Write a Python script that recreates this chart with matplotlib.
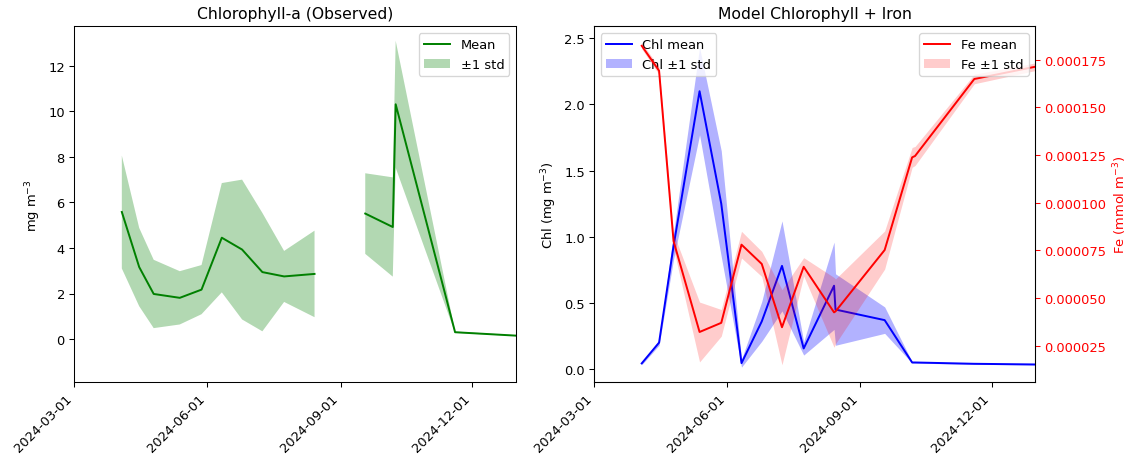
import numpy as np
import pandas as pd
import matplotlib
matplotlib.use("Agg")
import matplotlib.pyplot as plt
import matplotlib.dates as mdates

# ---- data ----
dates = pd.to_datetime([
    "2024-04-03", "2024-04-15", "2024-04-25", "2024-05-13", "2024-05-28",
    "2024-06-11", "2024-06-25", "2024-07-09", "2024-07-24", "2024-08-14",
    "2024-08-15", "2024-09-18", "2024-10-07", "2024-10-09", "2024-11-19",
    "2024-12-31",
])

obs_mean = [5.58, 3.16, 1.98, 1.81, 2.17, 4.45, 3.93, 2.94, 2.75, 2.86,
            np.nan, 5.51, 4.92, 10.31, 0.30, 0.15]
obs_std = [2.48, 1.72, 1.50, 1.17, 1.08, 2.40, 3.07, 2.60, 1.12, 1.90,
           np.nan, 1.77, 2.18, 2.79, 0.03, 0.02]

chl_mean = [0.043, 0.20, 0.93, 2.10, 1.25, 0.045, 0.36, 0.78, 0.156, 0.63,
            0.45, 0.37, 0.05, 0.05, 0.04, 0.035]
chl_std = [0.01, 0.02, 0.10, 0.33, 0.40, 0.03, 0.15, 0.34, 0.05, 0.33,
           0.27, 0.10, 0.005, 0.005, 0.004, 0.004]

fe_mean = [0.0001823, 0.0001692, 0.0000799, 0.0000322, 0.0000370, 0.0000780,
           0.0000679, 0.0000347, 0.0000664, 0.0000425, 0.0000430, 0.0000752,
           0.0001238, 0.0001245, 0.0001649, 0.0001713]
fe_std = [0.0000016, 0.0000020, 0.0000040, 0.0000157, 0.0000070, 0.0000070,
          0.0000066, 0.0000197, 0.0000048, 0.0000183, 0.0000170, 0.0000100,
          0.0000052, 0.0000050, 0.0000025, 0.0000020]

xlim = (pd.Timestamp("2024-03-01"), pd.Timestamp("2024-12-31"))

obs_mean = np.array(obs_mean)
obs_std = np.array(obs_std)
chl_mean = np.array(chl_mean)
chl_std = np.array(chl_std)
fe_mean = np.array(fe_mean)
fe_std = np.array(fe_std)

fig = plt.figure(figsize=(12, 4.925), dpi=94)
axL = fig.add_axes([0.0656, 0.1721, 0.3918, 0.7689])
axR = fig.add_axes([0.5266, 0.1721, 0.3910, 0.7689])

# ---- left panel ----
axL.plot(dates, obs_mean, color="green", lw=1.5, label="Mean")
axL.fill_between(dates, obs_mean - obs_std, obs_mean + obs_std,
                 color="green", alpha=0.3, lw=0, label="±1 std")
axL.set_title("Chlorophyll-a (Observed)")
axL.set_ylabel("mg m$^{-3}$")
axL.set_ylim(-1.9, 13.73)
axL.legend(loc="upper right")

# ---- right panel ----
axR.plot(dates, chl_mean, color="blue", lw=1.5, label="Chl mean")
axR.fill_between(dates, chl_mean - chl_std, chl_mean + chl_std,
                 color="blue", alpha=0.3, lw=0, label="Chl ±1 std")
axR.set_ylabel("Chl (mg m$^{-3}$)")
axR.set_ylim(-0.10, 2.59)
axR.set_title("Model Chlorophyll + Iron")
axR.legend(loc="upper left")

ax2 = axR.twinx()
ax2.plot(dates, fe_mean, color="red", lw=1.5, label="Fe mean")
ax2.fill_between(dates, fe_mean - fe_std, fe_mean + fe_std,
                 color="red", alpha=0.2, lw=0, label="Fe ±1 std")
ax2.set_ylabel("Fe (mmol m$^{-3}$)", color="red")
ax2.tick_params(axis="y", colors="red")
ax2.set_ylim(0.0000058, 0.0001925)
ax2.legend(loc="upper right")

for ax in (axL, axR):
    ax.set_xlim(xlim)
    ax.xaxis.set_major_locator(mdates.MonthLocator(bymonth=(3, 6, 9, 12)))
    ax.xaxis.set_major_formatter(mdates.DateFormatter("%Y-%m-%d"))
    for lab in ax.get_xticklabels():
        lab.set_rotation(45)
        lab.set_ha("right")

fig.savefig("out.png", dpi=94)
